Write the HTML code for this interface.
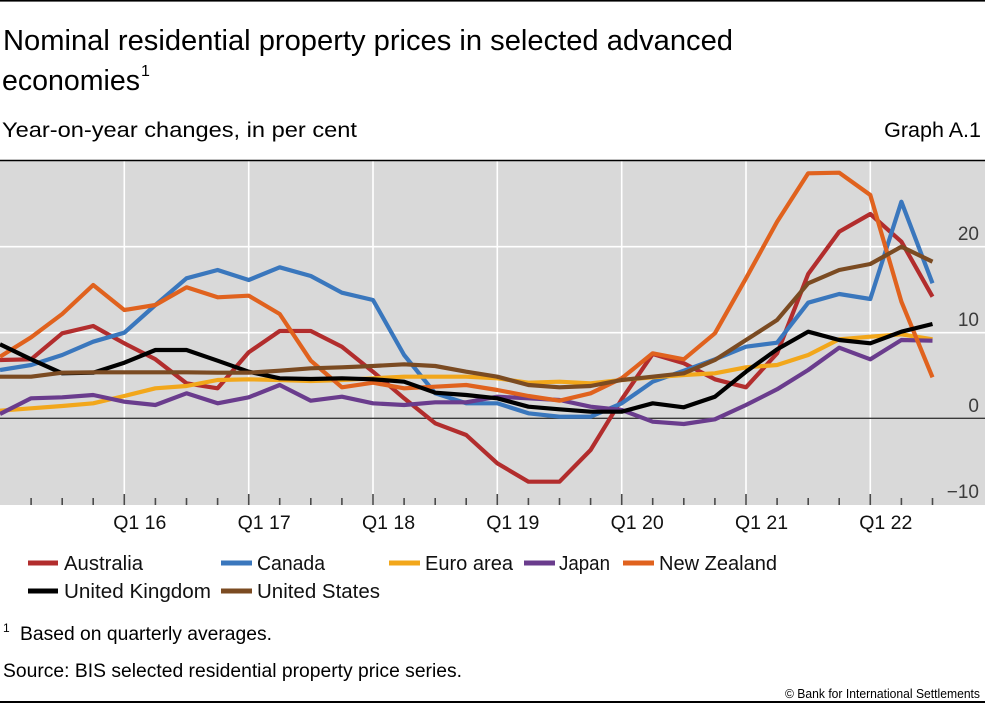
<!DOCTYPE html>
<html>
<head>
<meta charset="utf-8">
<style>
  html,body{margin:0;padding:0;background:#fff;}
  svg{display:block;}
  text{font-family:"Liberation Sans","DejaVu Sans",sans-serif;}
</style>
</head>
<body>
<svg width="985" height="705" viewBox="0 0 985 705" xmlns="http://www.w3.org/2000/svg">
  <rect x="0" y="0" width="985" height="705" fill="#fff"/>
  <!-- top rule -->
  <rect x="0" y="0" width="985" height="1.6" fill="#000"/>

  <!-- title -->
  <text x="3" y="50" font-size="29" fill="#000" textLength="730" lengthAdjust="spacingAndGlyphs">Nominal residential property prices in selected advanced</text>
  <text x="2" y="90" font-size="29" fill="#000" textLength="138" lengthAdjust="spacingAndGlyphs">economies</text>
  <text x="141" y="76" font-size="16" fill="#000">1</text>

  <!-- subtitle -->
  <text x="2" y="137" font-size="21.5" fill="#000" textLength="355" lengthAdjust="spacingAndGlyphs">Year-on-year changes, in per cent</text>
  <text x="981" y="137" font-size="21.5" fill="#000" text-anchor="end">Graph A.1</text>

  <!-- plot background -->
  <rect x="0" y="160" width="985" height="345" fill="#d9d9d9"/>

  <!-- gridlines -->
  <g stroke="#ffffff" stroke-width="1.6">
    <line x1="124.3" y1="160" x2="124.3" y2="505"/>
    <line x1="248.7" y1="160" x2="248.7" y2="505"/>
    <line x1="373.0" y1="160" x2="373.0" y2="505"/>
    <line x1="497.3" y1="160" x2="497.3" y2="505"/>
    <line x1="621.7" y1="160" x2="621.7" y2="505"/>
    <line x1="746.0" y1="160" x2="746.0" y2="505"/>
    <line x1="870.3" y1="160" x2="870.3" y2="505"/>
    <line x1="0" y1="246.7" x2="985" y2="246.7"/>
    <line x1="0" y1="332.7" x2="985" y2="332.7"/>
  </g>
  <!-- zero line -->
  <line x1="0" y1="418.3" x2="985" y2="418.3" stroke="#3a3a3a" stroke-width="1.4"/>
  <!-- plot top border -->
  <line x1="0" y1="160.5" x2="985" y2="160.5" stroke="#000" stroke-width="1.6"/>

  <!-- ticks -->
  <g stroke="#4a4a4a" stroke-width="1.6">
    <line x1="31.1" y1="498" x2="31.1" y2="505"/>
    <line x1="62.2" y1="498" x2="62.2" y2="505"/>
    <line x1="93.2" y1="498" x2="93.2" y2="505"/>
    <line x1="124.3" y1="494" x2="124.3" y2="505"/>
    <line x1="155.4" y1="498" x2="155.4" y2="505"/>
    <line x1="186.5" y1="498" x2="186.5" y2="505"/>
    <line x1="217.6" y1="498" x2="217.6" y2="505"/>
    <line x1="248.7" y1="494" x2="248.7" y2="505"/>
    <line x1="279.7" y1="498" x2="279.7" y2="505"/>
    <line x1="310.8" y1="498" x2="310.8" y2="505"/>
    <line x1="341.9" y1="498" x2="341.9" y2="505"/>
    <line x1="373.0" y1="494" x2="373.0" y2="505"/>
    <line x1="404.1" y1="498" x2="404.1" y2="505"/>
    <line x1="435.2" y1="498" x2="435.2" y2="505"/>
    <line x1="466.2" y1="498" x2="466.2" y2="505"/>
    <line x1="497.3" y1="494" x2="497.3" y2="505"/>
    <line x1="528.4" y1="498" x2="528.4" y2="505"/>
    <line x1="559.5" y1="498" x2="559.5" y2="505"/>
    <line x1="590.6" y1="498" x2="590.6" y2="505"/>
    <line x1="621.7" y1="494" x2="621.7" y2="505"/>
    <line x1="652.7" y1="498" x2="652.7" y2="505"/>
    <line x1="683.8" y1="498" x2="683.8" y2="505"/>
    <line x1="714.9" y1="498" x2="714.9" y2="505"/>
    <line x1="746.0" y1="494" x2="746.0" y2="505"/>
    <line x1="777.1" y1="498" x2="777.1" y2="505"/>
    <line x1="808.2" y1="498" x2="808.2" y2="505"/>
    <line x1="839.2" y1="498" x2="839.2" y2="505"/>
    <line x1="870.3" y1="494" x2="870.3" y2="505"/>
    <line x1="901.4" y1="498" x2="901.4" y2="505"/>
    <line x1="932.5" y1="498" x2="932.5" y2="505"/>
  </g>

  <!-- y labels -->
  <g font-size="19" fill="#3c3c3c" text-anchor="end">
    <text x="979" y="240">20</text>
    <text x="979" y="326">10</text>
    <text x="979" y="412">0</text>
    <text x="979" y="498">−10</text>
  </g>

  <!-- series -->
  <g fill="none" stroke-width="4.2" stroke-linejoin="round" stroke-linecap="butt">
    <polyline stroke="#b22d2d" points="0,360.0 31.1,359.3 62.2,333.3 93.2,326.0 124.3,343.3 155.4,359.3 186.5,383.3 217.6,388.3 248.7,352.3 279.7,331.0 310.8,331.0 341.9,346.7 373.0,371.7 404.1,398.3 435.2,423.3 466.2,435.0 497.3,463.3 528.4,481.7 559.5,481.7 590.6,450.0 621.7,399.3 652.7,354.0 683.8,363.3 714.9,379.3 746.0,387.3 777.1,353.3 808.2,274.0 839.2,231.7 870.3,214.0 901.4,241.7 932.5,296.7"/>
    <polyline stroke="#3a77bd" points="0,370.0 31.1,365.0 62.2,355.0 93.2,341.7 124.3,332.7 155.4,305.0 186.5,278.3 217.6,270.0 248.7,280.0 279.7,267.3 310.8,276.0 341.9,292.7 373.0,300.0 404.1,355.0 435.2,393.3 466.2,403.3 497.3,403.3 528.4,413.3 559.5,416.7 590.6,416.7 621.7,403.3 652.7,381.7 683.8,370.7 714.9,359.3 746.0,346.7 777.1,342.7 808.2,302.7 839.2,294.0 870.3,299.0 901.4,201.7 932.5,283.3"/>
    <polyline stroke="#f2a71b" points="0,410.7 31.1,408.3 62.2,406.0 93.2,403.3 124.3,396.0 155.4,388.3 186.5,386.0 217.6,380.0 248.7,379.3 279.7,380.0 310.8,381.0 341.9,380.0 373.0,378.3 404.1,376.7 435.2,376.7 466.2,376.7 497.3,378.3 528.4,382.7 559.5,381.7 590.6,383.3 621.7,380.0 652.7,377.3 683.8,375.0 714.9,373.3 746.0,367.3 777.1,365.0 808.2,355.0 839.2,339.3 870.3,336.7 901.4,334.3 932.5,339.3"/>
    <polyline stroke="#6a3c8d" points="0,414.0 31.1,398.3 62.2,397.3 93.2,395.0 124.3,401.7 155.4,405.0 186.5,393.3 217.6,403.3 248.7,397.3 279.7,385.0 310.8,400.7 341.9,396.7 373.0,403.3 404.1,405.0 435.2,402.3 466.2,402.3 497.3,396.7 528.4,398.3 559.5,400.0 590.6,406.7 621.7,410.0 652.7,421.7 683.8,424.0 714.9,419.3 746.0,405.0 777.1,389.3 808.2,370.0 839.2,347.7 870.3,359.3 901.4,340.0 932.5,340.7"/>
    <polyline stroke="#e0621e" points="0,356.7 31.1,337.3 62.2,314.0 93.2,285.0 124.3,310.0 155.4,305.0 186.5,287.3 217.6,297.3 248.7,295.7 279.7,314.0 310.8,360.7 341.9,387.3 373.0,382.7 404.1,388.3 435.2,386.7 466.2,385.0 497.3,390.0 528.4,396.0 559.5,400.7 590.6,393.3 621.7,378.3 652.7,353.3 683.8,359.3 714.9,333.3 746.0,278.3 777.1,221.7 808.2,173.3 839.2,172.7 870.3,195.0 901.4,301.7 932.5,377.3"/>
    <polyline stroke="#000000" points="0,344.3 31.1,359.3 62.2,373.3 93.2,372.7 124.3,362.7 155.4,350.0 186.5,350.0 217.6,360.7 248.7,371.7 279.7,378.3 310.8,379.0 341.9,378.3 373.0,379.3 404.1,381.7 435.2,392.7 466.2,395.0 497.3,398.3 528.4,406.7 559.5,409.3 590.6,411.7 621.7,411.7 652.7,403.3 683.8,407.3 714.9,396.7 746.0,371.7 777.1,349.3 808.2,331.7 839.2,340.0 870.3,343.3 901.4,331.7 932.5,324.0"/>
    <polyline stroke="#7b4b22" points="0,376.7 31.1,376.7 62.2,372.7 93.2,372.3 124.3,372.3 155.4,372.3 186.5,372.3 217.6,372.7 248.7,372.7 279.7,370.7 310.8,368.3 341.9,367.3 373.0,366.0 404.1,364.3 435.2,366.0 466.2,371.7 497.3,376.7 528.4,385.0 559.5,387.3 590.6,386.0 621.7,380.0 652.7,376.7 683.8,373.3 714.9,360.0 746.0,340.0 777.1,320.0 808.2,283.3 839.2,270.0 870.3,264.0 901.4,246.7 932.5,261.7"/>
  </g>

  <!-- x labels -->
  <g font-size="19.5" fill="#111" text-anchor="middle">
    <text x="139.8" y="529">Q1 16</text>
    <text x="264.2" y="529">Q1 17</text>
    <text x="388.5" y="529">Q1 18</text>
    <text x="512.8" y="529">Q1 19</text>
    <text x="637.2" y="529">Q1 20</text>
    <text x="761.5" y="529">Q1 21</text>
    <text x="885.8" y="529">Q1 22</text>
  </g>

  <!-- legend -->
  <g>
    <rect x="28" y="560.5" width="30" height="5" fill="#b22d2d"/>
    <text x="64" y="570" font-size="20" fill="#111" textLength="79" lengthAdjust="spacingAndGlyphs">Australia</text>
    <rect x="221" y="560.5" width="31" height="5" fill="#3a77bd"/>
    <text x="257" y="570" font-size="20" fill="#111" textLength="68" lengthAdjust="spacingAndGlyphs">Canada</text>
    <rect x="389" y="560.5" width="31" height="5" fill="#f2a71b"/>
    <text x="425" y="570" font-size="20" fill="#111" textLength="88" lengthAdjust="spacingAndGlyphs">Euro area</text>
    <rect x="524" y="560.5" width="31" height="5" fill="#6a3c8d"/>
    <text x="559" y="570" font-size="20" fill="#111" textLength="51" lengthAdjust="spacingAndGlyphs">Japan</text>
    <rect x="623" y="560.5" width="31" height="5" fill="#e0621e"/>
    <text x="659" y="570" font-size="20" fill="#111" textLength="118" lengthAdjust="spacingAndGlyphs">New Zealand</text>

    <rect x="28" y="588.5" width="30" height="5" fill="#000"/>
    <text x="64" y="598" font-size="20" fill="#111" textLength="147" lengthAdjust="spacingAndGlyphs">United Kingdom</text>
    <rect x="221" y="588.5" width="31" height="5" fill="#7b4b22"/>
    <text x="257" y="598" font-size="20" fill="#111" textLength="123" lengthAdjust="spacingAndGlyphs">United States</text>
  </g>

  <!-- footnotes -->
  <text x="3" y="632" font-size="12" fill="#000">1</text>
  <text x="20" y="640" font-size="19" fill="#000" textLength="252" lengthAdjust="spacingAndGlyphs">Based on quarterly averages.</text>
  <text x="3" y="677" font-size="19.5" fill="#000" textLength="459" lengthAdjust="spacingAndGlyphs">Source: BIS selected residential property price series.</text>
  <text x="980" y="698" font-size="13" fill="#000" text-anchor="end" textLength="195" lengthAdjust="spacingAndGlyphs">© Bank for International Settlements</text>

  <!-- bottom rule -->
  <rect x="0" y="701" width="985" height="2" fill="#000"/>
</svg>
</body>
</html>
